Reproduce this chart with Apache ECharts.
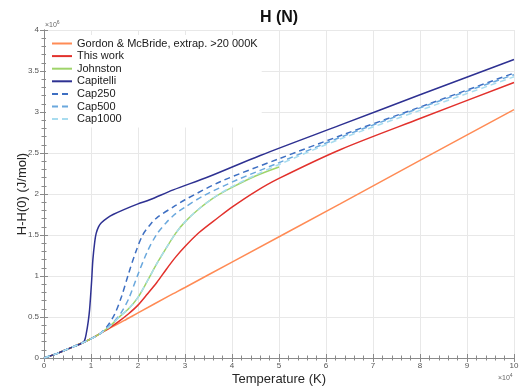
<!DOCTYPE html>
<html><head><meta charset="utf-8">
<script src="https://cdn.jsdelivr.net/npm/echarts@6/dist/echarts.min.js"></script>
<style>html,body{margin:0;padding:0;background:#fff}#c{width:520px;height:387px}</style>
</head><body><div id="c"></div>
<script>
// Temperature in units of 1e4 K, H-H(0) in units of 1e6 J/mol
var seriesNames = ['Gordon & McBride, extrap. >20 000K','This work','Johnston','Capitelli','Cap250','Cap500','Cap1000'];
var xTicks = [0,1,2,3,4,5,6,7,8,9,10];
var yTicks = [0,0.5,1,1.5,2,2.5,3,3.5,4];

var gmT = [0,0.3,0.55,0.8,1.0,1.2,1.4,1.7,2.0,2.67,3.0,4.0,6.3,8.0,10];
var gmH = [0,0.06,0.12,0.18,0.235,0.3,0.365,0.455,0.55,0.76,0.86,1.17,1.88,2.41,3.03];

var twT = [0,0.3,0.55,0.8,1.0,1.2,1.4,1.6,1.8,2.0,2.2,2.4,2.6,2.8,3.0,3.3,3.7,4.0,4.5,5.0,6.3,8.0,10];
var twH = [0,0.06,0.12,0.18,0.235,0.3,0.37,0.45,0.54,0.645,0.78,0.92,1.08,1.23,1.36,1.53,1.71,1.84,2.03,2.19,2.54,2.92,3.36];

var joT = [0,0.3,0.55,0.8,1.0,1.2,1.4,1.6,1.8,2.0,2.2,2.4,2.6,2.8,3.0,3.3,3.6,4.0,4.5,5.0];
var joH = [0,0.06,0.12,0.18,0.235,0.3,0.385,0.5,0.6,0.74,0.94,1.15,1.34,1.52,1.66,1.82,1.95,2.08,2.22,2.33];

var caT = [0,0.3,0.55,0.8,0.86,0.9,0.94,0.97,1.01,1.04,1.08,1.11,1.16,1.22,1.35,1.47,1.7,2.0,2.25,2.75,3.5,4.6,6.3,8.0,10];
var caH = [0,0.06,0.12,0.18,0.21,0.3,0.44,0.59,0.91,1.2,1.42,1.52,1.6,1.65,1.71,1.75,1.81,1.88,1.93,2.05,2.21,2.47,2.84,3.21,3.64];

var c250T = [0,0.3,0.55,0.8,1.0,1.2,1.35,1.5,1.65,1.8,1.95,2.1,2.25,2.4,2.8,3.0,3.75,5.0,6.3,8.0,10];
var c250H = [0,0.06,0.12,0.18,0.235,0.3,0.39,0.53,0.75,1.03,1.29,1.5,1.62,1.71,1.86,1.93,2.15,2.43,2.71,3.06,3.475];

var c500T = [0,0.3,0.55,0.8,1.0,1.2,1.35,1.5,1.65,1.8,2.0,2.2,2.4,2.6,2.8,3.0,3.4,4.1,4.95,6.3,8.0,10];
var c500H = [0,0.06,0.12,0.18,0.235,0.3,0.375,0.45,0.56,0.72,1.02,1.3,1.51,1.65,1.76,1.84,1.98,2.17,2.37,2.69,3.05,3.455];

var c1000T = [0,0.3,0.55,0.8,1.0,1.2,1.4,1.6,1.8,2.0,2.2,2.4,2.6,2.8,3.0,3.3,3.6,4.0,4.5,5.0,6.3,8.0,10];
var c1000H = [0,0.06,0.12,0.18,0.235,0.3,0.385,0.5,0.6,0.74,0.94,1.15,1.34,1.52,1.66,1.82,1.95,2.09,2.23,2.36,2.67,3.02,3.43];

var colors = ['#ff8b55','#e2312c','#9fd46a','#2e3192','#3e6fc2','#6aa8dd','#a8dcef'];

function zip(a,b){var r=[];for(var i=0;i<a.length;i++)r.push([a[i],b[i]]);return r;}
var allData = [zip(gmT,gmH),zip(twT,twH),zip(joT,joH),zip(caT,caH),zip(c250T,c250H),zip(c500T,c500H),zip(c1000T,c1000H)];
var FONT = '"Liberation Sans", Arial, Helvetica, sans-serif';

var series = allData.map(function(d,i){
  return {
    name: seriesNames[i], type:'line', data:d, showSymbol:false, symbol:'none',
    smooth:0.3, animation:false, z: 2+i,
    lineStyle:{color:colors[i], width:1.5, type: i>=4 ? [6,4] : 'solid'},
    itemStyle:{color:colors[i]}
  };
});

function axisCommon(showLabel){
  return {
    axisLine:{show:true, lineStyle:{color:'#8a8a8a', width:1}},
    axisTick:{show:true, inside:true, length:4, lineStyle:{color:'#8a8a8a'}},
    minorTick:{show:true, splitNumber:5, length:2.5, lineStyle:{color:'#8a8a8a'}},
    axisLabel:{show:showLabel, fontSize:8, color:'#555', fontFamily:FONT}
  };
}

var xMain = Object.assign(axisCommon(true), {
  type:'value', min:0, max:10, interval:1, position:'bottom',
  splitLine:{show:true, lineStyle:{color:'#e8e8e8', width:1}},
  name:'Temperature (K)', nameLocation:'middle', nameGap:15, nameMoveOverlap:false,
  nameTextStyle:{fontSize:13, color:'#262626', fontFamily:FONT}
});
xMain.axisLabel.margin = 4;
var xTop = Object.assign(axisCommon(false), {type:'value', min:0, max:10, interval:1, position:'top', splitLine:{show:false}});
var yMain = Object.assign(axisCommon(true), {
  type:'value', min:0, max:4, interval:0.5, position:'left',
  splitLine:{show:true, lineStyle:{color:'#e8e8e8', width:1}},
  name:'H-H(0) (J/mol)', nameLocation:'middle', nameGap:15, nameMoveOverlap:false,
  nameTextStyle:{fontSize:13, color:'#262626', fontFamily:FONT}
});
yMain.axisLabel.margin = 5;
var yRight = Object.assign(axisCommon(false), {type:'value', min:0, max:4, interval:0.5, position:'right', splitLine:{show:false}});

var chart = echarts.init(document.getElementById('c'), null, {renderer:'canvas'});
chart.setOption({
  animation:false,
  backgroundColor:'#fff',
  grid:{left:44, right:6, top:30, bottom:29, containLabel:false, outerBoundsMode:'none'},
  xAxis:[xMain, xTop],
  yAxis:[yMain, yRight],
  legend:{
    show:true, orient:'vertical', left:46, top:35,
    itemWidth:20, itemHeight:10, itemGap:1.6,
    backgroundColor:'#fff', padding:[3,4,3,5],
    itemStyle:{opacity:0},
    textStyle:{fontSize:11, lineHeight:10, color:'#1a1a1a', fontFamily:FONT}
  },
  graphic:[
    {type:'text', z:100, style:{x:279, y:18, text:'H (N)', font:'bold 16px '+FONT, fill:'#111', textAlign:'center', textVerticalAlign:'middle'}},
    {type:'text', z:100, style:{x:45, y:25, text:'×10{s|6}', fontSize:7, fontFamily:FONT, fill:'#666', textVerticalAlign:'middle', rich:{s:{fontSize:5, verticalAlign:'top', padding:[0,0,4,0], fill:'#666'}}}},
    {type:'text', z:100, style:{x:498, y:378, text:'×10{s|4}', fontSize:7, fontFamily:FONT, fill:'#666', textVerticalAlign:'middle', rich:{s:{fontSize:5, verticalAlign:'top', padding:[0,0,4,0], fill:'#666'}}}}
  ],
  series: series
});
</script></body></html>
